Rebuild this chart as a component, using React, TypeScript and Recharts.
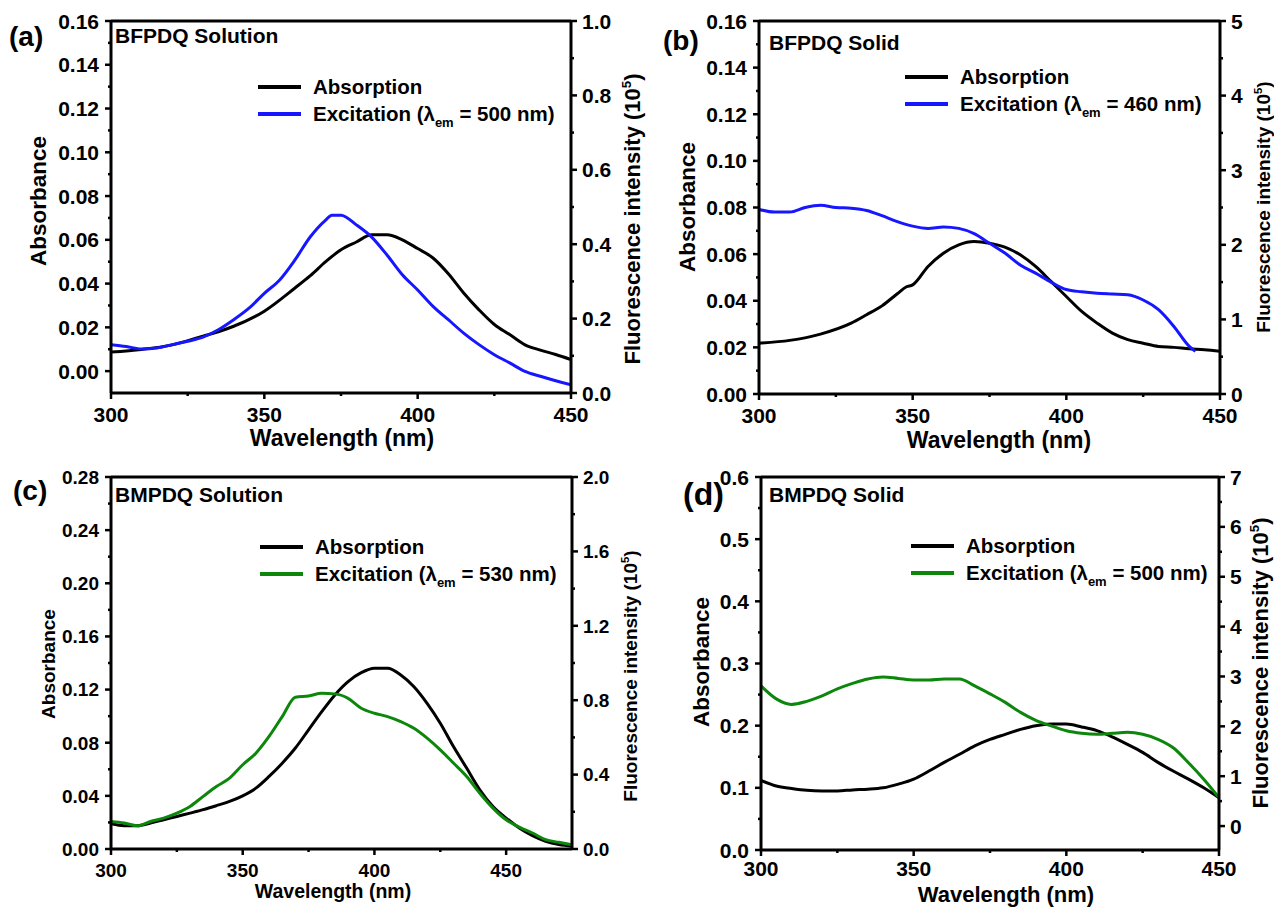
import { ComposedChart, Line, ReferenceLine, XAxis, YAxis } from 'recharts'

const FONT = "'Liberation Sans', Arial, Helvetica, sans-serif"
const BLUE = '#1616ff'
const GREEN = '#0c870c'

// ---- (a) BFPDQ Solution ----
const A_ABS_WL = [300, 310, 320, 330, 335, 340, 350, 360, 365, 370, 375, 380, 385, 390, 395, 400, 405, 410, 415, 420, 425, 430, 435, 440, 445, 450]
const A_ABS = [0.0087, 0.0099, 0.012, 0.016, 0.018, 0.0205, 0.0274, 0.038, 0.0436, 0.05, 0.0555, 0.059, 0.0623, 0.0623, 0.06, 0.056, 0.0517, 0.0445, 0.0357, 0.028, 0.0213, 0.0167, 0.012, 0.0096, 0.0076, 0.0053]
const A_EXC_WL = [300, 305, 310, 315, 320, 325, 330, 335, 340, 345, 350, 355, 360, 365, 370, 372, 375, 380, 385, 390, 395, 400, 405, 410, 415, 420, 425, 430, 435, 440, 445, 450]
const A_EXC = [0.13, 0.125, 0.118, 0.121, 0.13, 0.139, 0.15, 0.17, 0.197, 0.228, 0.268, 0.304, 0.358, 0.42, 0.465, 0.478, 0.478, 0.452, 0.419, 0.371, 0.318, 0.277, 0.233, 0.197, 0.161, 0.13, 0.103, 0.081, 0.058, 0.045, 0.033, 0.022]

// ---- (b) BFPDQ Solid ----
const B_ABS_WL = [300, 310, 320, 330, 335, 340, 345, 348, 350, 355, 360, 365, 370, 375, 380, 385, 390, 395, 400, 405, 410, 415, 420, 425, 430, 435, 440, 445, 450]
const B_ABS = [0.0218, 0.023, 0.0257, 0.0304, 0.034, 0.0378, 0.043, 0.046, 0.0468, 0.0547, 0.0604, 0.064, 0.0654, 0.0647, 0.063, 0.0597, 0.0547, 0.0483, 0.0418, 0.0354, 0.0304, 0.0261, 0.0233, 0.0218, 0.0204, 0.02, 0.0194, 0.019, 0.0183]
const B_EXC_WL = [300, 305, 310, 315, 320, 325, 330, 335, 340, 345, 350, 355, 360, 365, 370, 375, 380, 385, 390, 395, 400, 405, 410, 415, 420, 425, 430, 435, 440, 442]
const B_EXC = [2.475, 2.44, 2.44, 2.5, 2.53, 2.5, 2.49, 2.46, 2.39, 2.31, 2.25, 2.22, 2.24, 2.22, 2.15, 2.02, 1.89, 1.73, 1.62, 1.5, 1.4, 1.37, 1.35, 1.34, 1.33, 1.26, 1.13, 0.905, 0.638, 0.571]

// ---- (c) BMPDQ Solution ----
const C_WL = [300, 305, 310, 315, 320, 325, 330, 335, 340, 345, 350, 355, 360, 365, 370, 375, 380, 385, 390, 395, 400, 405, 410, 415, 420, 425, 430, 435, 440, 445, 450, 455, 460, 465, 470, 475]
const C_ABS = [0.019, 0.0175, 0.0175, 0.0195, 0.022, 0.0245, 0.027, 0.0296, 0.0326, 0.0358, 0.04, 0.0458, 0.0546, 0.0646, 0.076, 0.0897, 0.1034, 0.116, 0.126, 0.1327, 0.136, 0.136, 0.131, 0.1222, 0.1097, 0.0947, 0.0771, 0.0609, 0.0446, 0.032, 0.0233, 0.0158, 0.01, 0.0058, 0.0033, 0.002]
const C_EXC = [0.148, 0.14, 0.125, 0.148, 0.166, 0.193, 0.229, 0.283, 0.336, 0.381, 0.453, 0.515, 0.605, 0.712, 0.816, 0.823, 0.837, 0.834, 0.81, 0.757, 0.73, 0.712, 0.685, 0.649, 0.596, 0.533, 0.462, 0.39, 0.3, 0.22, 0.157, 0.118, 0.086, 0.05, 0.036, 0.023]

// ---- (d) BMPDQ Solid ----
const D_WL = [300, 305, 310, 315, 320, 325, 330, 335, 340, 345, 350, 355, 360, 365, 370, 375, 380, 385, 390, 395, 400, 405, 410, 415, 420, 425, 430, 435, 440, 445, 450]
const D_ABS = [0.112, 0.103, 0.099, 0.096, 0.095, 0.095, 0.0967, 0.0977, 0.1, 0.106, 0.114, 0.127, 0.141, 0.154, 0.1676, 0.178, 0.186, 0.194, 0.2, 0.2025, 0.2025, 0.198, 0.192, 0.182, 0.17, 0.157, 0.141, 0.127, 0.114, 0.1, 0.084]
const D_EXC = [2.81, 2.55, 2.44, 2.5, 2.61, 2.75, 2.86, 2.95, 2.99, 2.96, 2.93, 2.93, 2.95, 2.95, 2.81, 2.65, 2.48, 2.28, 2.12, 2.01, 1.91, 1.86, 1.84, 1.86, 1.88, 1.84, 1.74, 1.57, 1.27, 0.94, 0.57]

// ---- ticks ----
const X_MAJOR = [300, 350, 400, 450]
const X_MINOR = [325, 375, 425]
const AB_LEFT_MAJOR = [0, 0.02, 0.04, 0.06, 0.08, 0.1, 0.12, 0.14, 0.16]
const AB_LEFT_MINOR = [0.01, 0.03, 0.05, 0.07, 0.09, 0.11, 0.13, 0.15]
const A_RIGHT_MAJOR = [0, 0.2, 0.4, 0.6, 0.8, 1.0]
const A_RIGHT_MINOR = [0.1, 0.3, 0.5, 0.7, 0.9]
const B_RIGHT_MAJOR = [0, 1, 2, 3, 4, 5]
const B_RIGHT_MINOR = [0.5, 1.5, 2.5, 3.5, 4.5]
const C_LEFT_MAJOR = [0, 0.04, 0.08, 0.12, 0.16, 0.2, 0.24, 0.28]
const C_LEFT_MINOR = [0.02, 0.06, 0.1, 0.14, 0.18, 0.22, 0.26]
const C_RIGHT_MAJOR = [0, 0.4, 0.8, 1.2, 1.6, 2.0]
const C_RIGHT_MINOR = [0.2, 0.6, 1.0, 1.4, 1.8]
const D_LEFT_MAJOR = [0, 0.1, 0.2, 0.3, 0.4, 0.5, 0.6]
const D_LEFT_MINOR = [0.05, 0.15, 0.25, 0.35, 0.45, 0.55]
const D_RIGHT_MAJOR = [0, 1, 2, 3, 4, 5, 6, 7]
const D_RIGHT_MINOR = [0.5, 1.5, 2.5, 3.5, 4.5, 5.5, 6.5]

const pts = (wl: number[], v: number[]) => wl.map((w, i) => ({ w, v: v[i] }))

function makeTick(side: 'bottom' | 'left' | 'right', majors: number[], digits: number, fs: number, gap = 14) {
  return (props: any) => {
    const { x, y, payload } = props
    const v = payload.value
    const major = majors.some((m) => Math.abs(m - v) < 1e-9)
    const len = major ? 6 : 3
    const label = major ? v.toFixed(digits) : ''
    const t = { fontFamily: FONT, fontWeight: 700, fontSize: fs, fill: '#000' }
    if (side === 'bottom') {
      return (
        <g>
          <line x1={x} x2={x} y1={y} y2={y + len} stroke="#000" strokeWidth={2.5} />
          {major && <text x={x} y={y + gap} dy="0.72em" textAnchor="middle" {...t}>{label}</text>}
        </g>
      )
    }
    if (side === 'left') {
      return (
        <g>
          <line x1={x - len} x2={x} y1={y} y2={y} stroke="#000" strokeWidth={2.5} />
          {major && <text x={x - 12} y={y} dy="0.36em" textAnchor="end" {...t}>{label}</text>}
        </g>
      )
    }
    return (
      <g>
        <line x1={x} x2={x + len} y1={y} y2={y} stroke="#000" strokeWidth={2.5} />
        {major && <text x={x + 11} y={y} dy="0.36em" textAnchor="start" {...t}>{label}</text>}
      </g>
    )
  }
}

type PanelProps = {
  left: number; top: number; width: number; height: number
  plotLeft: number; plotRight: number; plotTop: number; plotBottom: number
  xDomain: [number, number]; xMajor: number[]; xMinor: number[]
  lDomain: [number, number]; lMajor: number[]; lMinor: number[]; lDigits: number
  rDomain: [number, number]; rMajor: number[]; rMinor: number[]; rDigits: number
  abs: { w: number; v: number }[]; exc: { w: number; v: number }[]; color: string; fs: number; xGap?: number
}

function Panel(p: PanelProps) {
  const sort = (a: number[], b: number[]) => [...a, ...b].sort((m, n) => m - n)
  const axisLine = { stroke: '#000', strokeWidth: 3 }
  return (
    <div style={{ position: 'absolute', left: p.left, top: p.top }}>
      <ComposedChart width={p.width} height={p.height}
        margin={{ top: p.plotTop, left: 0, right: 0, bottom: 0 }}>
        <XAxis type="number" dataKey="w" domain={p.xDomain} allowDataOverflow ticks={sort(p.xMajor, p.xMinor)}
          interval={0} tickLine={false} tickSize={0} tickMargin={0} axisLine={axisLine}
          height={p.height - p.plotBottom} tick={makeTick('bottom', p.xMajor, 0, p.fs, p.xGap)} />
        <YAxis yAxisId="left" type="number" domain={p.lDomain} allowDataOverflow ticks={sort(p.lMajor, p.lMinor)}
          interval={0} tickLine={false} tickSize={0} tickMargin={0} axisLine={axisLine}
          width={p.plotLeft} tick={makeTick('left', p.lMajor, p.lDigits, p.fs)} />
        <YAxis yAxisId="right" orientation="right" type="number" domain={p.rDomain} allowDataOverflow
          ticks={sort(p.rMajor, p.rMinor)} interval={0} tickLine={false} tickSize={0} tickMargin={0}
          axisLine={axisLine} width={p.width - p.plotRight} tick={makeTick('right', p.rMajor, p.rDigits, p.fs)} />
        <ReferenceLine yAxisId="left" y={p.lDomain[1]} stroke="#000" strokeWidth={3} />
        <Line yAxisId="left" data={p.abs} dataKey="v" type="monotone" stroke="#000" strokeWidth={3}
          dot={false} isAnimationActive={false} />
        <Line yAxisId="right" data={p.exc} dataKey="v" type="monotone" stroke={p.color} strokeWidth={3}
          dot={false} isAnimationActive={false} />
      </ComposedChart>
    </div>
  )
}

const T = { fontFamily: FONT, fontWeight: 700, fill: '#000' } as const

function Legend2({ x, y, color, em }: { x: number; y: number; color: string; em: string }) {
  return (
    <g>
      <line x1={x} x2={x + 43} y1={y} y2={y} stroke="#000" strokeWidth={4} />
      <text x={x + 55} y={y + 7} fontSize={20.5} {...T}>Absorption</text>
      <line x1={x} x2={x + 43} y1={y + 27} y2={y + 27} stroke={color} strokeWidth={4} />
      <text x={x + 55} y={y + 34} fontSize={20.5} {...T}>
        Excitation (λ<tspan fontSize={13} dy={6}>em</tspan><tspan dy={-6}> = {em} nm)</tspan>
      </text>
    </g>
  )
}

function FluoTitle({ x, y, fs }: { x: number; y: number; fs: number }) {
  return (
    <text x={x} y={y} transform={`rotate(-90 ${x} ${y})`} textAnchor="middle" fontSize={fs} {...T}>
      Fluorescence intensity (10<tspan fontSize={fs * 0.6} dy={-fs * 0.4}>5</tspan><tspan dy={fs * 0.4}>)</tspan>
    </text>
  )
}

function AbsTitle({ x, y, fs }: { x: number; y: number; fs: number }) {
  return (
    <text x={x} y={y} transform={`rotate(-90 ${x} ${y})`} textAnchor="middle" fontSize={fs} {...T}>Absorbance</text>
  )
}

export default function App() {
  return (
    <div style={{ position: 'absolute', left: 0, top: 0, width: 1274, height: 907, background: '#fff' }}>
      <Panel left={0} top={0} width={637} height={450} plotLeft={111} plotRight={571} plotTop={21} plotBottom={393}
        xDomain={[300, 450]} xMajor={X_MAJOR} xMinor={X_MINOR}
        lDomain={[-0.01, 0.16]} lMajor={AB_LEFT_MAJOR} lMinor={AB_LEFT_MINOR} lDigits={2}
        rDomain={[0, 1]} rMajor={A_RIGHT_MAJOR} rMinor={A_RIGHT_MINOR} rDigits={1}
        abs={pts(A_ABS_WL, A_ABS)} exc={pts(A_EXC_WL, A_EXC)} color={BLUE} fs={21} />
      <Panel left={637} top={0} width={637} height={450} plotLeft={122} plotRight={583} plotTop={21} plotBottom={394}
        xDomain={[300, 450]} xMajor={X_MAJOR} xMinor={X_MINOR}
        lDomain={[0, 0.16]} lMajor={AB_LEFT_MAJOR} lMinor={AB_LEFT_MINOR} lDigits={2}
        rDomain={[0, 5]} rMajor={B_RIGHT_MAJOR} rMinor={B_RIGHT_MINOR} rDigits={0}
        abs={pts(B_ABS_WL, B_ABS)} exc={pts(B_EXC_WL, B_EXC)} color={BLUE} fs={21} />
      <Panel left={0} top={450} width={637} height={457} plotLeft={111} plotRight={572} plotTop={27} plotBottom={399}
        xDomain={[300, 475]} xMajor={X_MAJOR} xMinor={X_MINOR}
        lDomain={[0, 0.28]} lMajor={C_LEFT_MAJOR} lMinor={C_LEFT_MINOR} lDigits={2}
        rDomain={[0, 2]} rMajor={C_RIGHT_MAJOR} rMinor={C_RIGHT_MINOR} rDigits={1}
        abs={pts(C_WL, C_ABS)} exc={pts(C_WL, C_EXC)} color={GREEN} fs={19} />
      <Panel left={637} top={450} width={637} height={457} plotLeft={124} plotRight={582} plotTop={27} plotBottom={400}
        xDomain={[300, 450]} xMajor={X_MAJOR} xMinor={X_MINOR}
        lDomain={[0, 0.6]} lMajor={D_LEFT_MAJOR} lMinor={D_LEFT_MINOR} lDigits={1}
        rDomain={[-0.48, 7]} rMajor={D_RIGHT_MAJOR} rMinor={D_RIGHT_MINOR} rDigits={0}
        abs={pts(D_WL, D_ABS)} exc={pts(D_WL, D_EXC)} color={GREEN} fs={21} xGap={11} />

      <svg width={1274} height={907} style={{ position: 'absolute', left: 0, top: 0, pointerEvents: 'none' }}>
        {/* panel letters */}
        <text x={9} y={46} fontSize={28} {...T}>(a)</text>
        <text x={663} y={50} fontSize={28} {...T}>(b)</text>
        <text x={13} y={500} fontSize={28} {...T}>(c)</text>
        <text x={683} y={505} fontSize={32} {...T}>(d)</text>

        {/* sample names */}
        <text x={115} y={43} fontSize={21} {...T}>BFPDQ Solution</text>
        <text x={769} y={50} fontSize={21} {...T}>BFPDQ Solid</text>
        <text x={115} y={502} fontSize={21} {...T}>BMPDQ Solution</text>
        <text x={769} y={502} fontSize={21} {...T}>BMPDQ Solid</text>

        <Legend2 x={258} y={87} color={BLUE} em="500" />
        <Legend2 x={905} y={77} color={BLUE} em="460" />
        <Legend2 x={260} y={547} color={GREEN} em="530" />
        <Legend2 x={911} y={546} color={GREEN} em="500" />

        {/* axis titles */}
        <AbsTitle x={46} y={201} fs={22.5} />
        <AbsTitle x={695} y={207} fs={22.5} />
        <AbsTitle x={55} y={664} fs={19} />
        <AbsTitle x={709} y={662} fs={22.5} />

        <FluoTitle x={640} y={219} fs={22} />
        <FluoTitle x={1270} y={207} fs={19} />
        <FluoTitle x={637} y={676} fs={19} />
        <FluoTitle x={1268} y={663} fs={22} />

        <text x={342} y={446} textAnchor="middle" fontSize={23} {...T}>Wavelength (nm)</text>
        <text x={999} y={448} textAnchor="middle" fontSize={23} {...T}>Wavelength (nm)</text>
        <text x={333} y={898} textAnchor="middle" fontSize={19.5} {...T}>Wavelength (nm)</text>
        <text x={1006} y={902} textAnchor="middle" fontSize={22} {...T}>Wavelength (nm)</text>
      </svg>
    </div>
  )
}
